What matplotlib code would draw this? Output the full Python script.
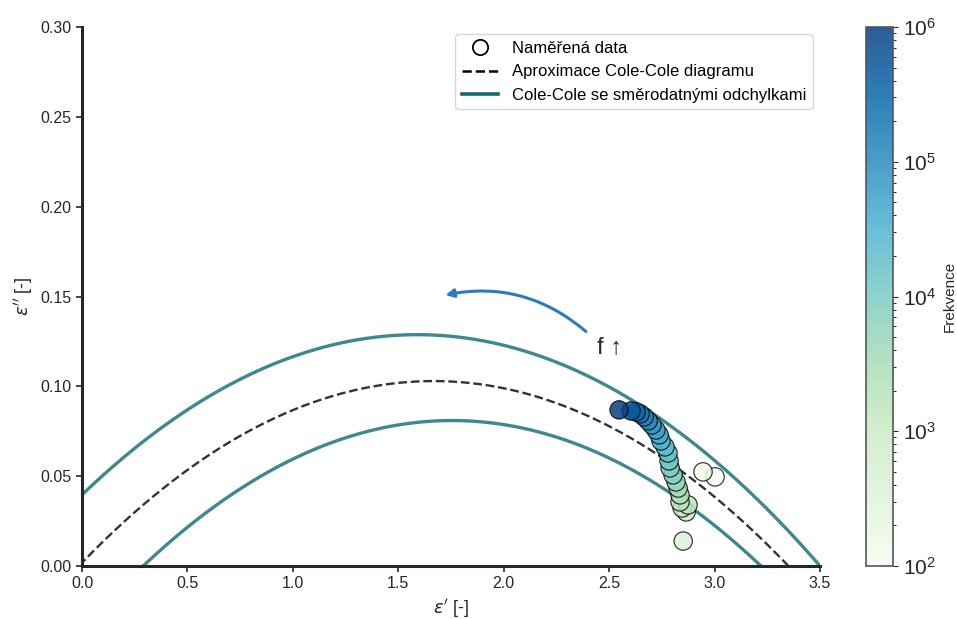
import numpy as np
import matplotlib
matplotlib.use("Agg")
import matplotlib.pyplot as plt
from matplotlib.colors import LogNorm
from matplotlib.lines import Line2D
from matplotlib.patches import FancyArrowPatch

plt.rcParams['font.family'] = ['Liberation Sans', 'DejaVu Sans']
plt.rcParams['mathtext.fontset'] = 'dejavusans'

# measured permittivity (real, imaginary) and frequency [Hz]
freq = [100, 130, 400, 1000, 1200, 1500, 2000, 2500, 3500, 5000,
        7000, 9000, 12000, 16000, 22000, 30000, 40000, 55000, 75000,
        1.0e5, 1.4e5, 2.0e5, 3.0e5, 5.0e5, 1.0e6]
eps_re = [3.002, 2.945, 2.851, 2.865, 2.846, 2.874, 2.836, 2.836, 2.827,
          2.817, 2.803, 2.789, 2.784, 2.779, 2.765, 2.746, 2.737, 2.722,
          2.703, 2.685, 2.666, 2.647, 2.628, 2.604, 2.547]
eps_im = [0.0496, 0.0524, 0.0139, 0.0301, 0.0323, 0.0340, 0.0357, 0.0396,
          0.0434, 0.0468, 0.0507, 0.0546, 0.0585, 0.0629, 0.0663, 0.0696,
          0.0730, 0.0757, 0.0785, 0.0808, 0.0830, 0.0847, 0.0858, 0.0863,
          0.0869]

# Cole-Cole fit (eps_inf, eps_s, alpha) and the +/- std variants
fit_params = (-0.015, 3.35, 0.9222)
upper_params = (-0.32, 3.50, 0.9143)
lower_params = (0.29, 3.22, 0.9297)


def cole_cole(eps_inf, eps_s, alpha):
    w = np.logspace(-140, 140, 4000)
    eps = eps_inf + (eps_s - eps_inf) / (1 + (1j * w) ** (1 - alpha))
    return eps.real, -eps.imag


TEAL = '#0e6a74'
DARK = '#262626'

fig = plt.figure(figsize=(9.57, 6.19), dpi=100)
ax = fig.add_axes([0.0857, 0.0856, 0.7712, 0.8708])

for p in (upper_params, lower_params):
    xr, xi = cole_cole(*p)
    ax.plot(xr, xi, color=TEAL, lw=2.4, alpha=0.8, zorder=2)

xr, xi = cole_cole(*fit_params)
ax.plot(xr, xi, color='#333333', lw=1.7, ls='--', zorder=2)

sc = ax.scatter(eps_re, eps_im, c=freq, cmap='GnBu', norm=LogNorm(1e2, 1e6),
                s=175, edgecolors='black', linewidths=0.8, alpha=0.85, zorder=3)

arrow = FancyArrowPatch((2.40, 0.1295), (1.71, 0.1505),
                        connectionstyle='arc3,rad=0.25', arrowstyle='-|>',
                        mutation_scale=12, color='#2a7bc0', lw=2.2, zorder=4)
ax.add_patch(arrow)
ax.text(2.44, 0.1215, 'f ↑', fontsize=17, va='center', ha='left',
        color=DARK, family=['Liberation Sans', 'DejaVu Sans'])

ax.set_xlim(0, 3.5)
ax.set_ylim(0, 0.30)
ax.set_xticks(np.arange(0, 3.51, 0.5))
ax.set_yticks(np.arange(0, 0.301, 0.05))
ax.set_xlabel(r"$\varepsilon'$ [-]", fontsize=13, color=DARK)
ax.set_ylabel(r"$\varepsilon''$ [-]", fontsize=13, color=DARK)

for side in ('top', 'right'):
    ax.spines[side].set_visible(False)
for side in ('left', 'bottom'):
    ax.spines[side].set_linewidth(2.2)
    ax.spines[side].set_color(DARK)
ax.tick_params(labelsize=11.5, length=4, width=1.2, color=DARK, labelcolor=DARK)

handles = [
    Line2D([], [], ls='none', marker='o', markersize=11, markerfacecolor='white',
           markeredgecolor='black', markeredgewidth=1.3, label='Naměřená data'),
    Line2D([], [], color='black', ls='--', lw=1.8,
           label='Aproximace Cole-Cole diagramu'),
    Line2D([], [], color=TEAL, lw=2.6,
           label='Cole-Cole se směrodatnými odchylkami'),
]
ax.legend(handles=handles, loc='upper right', fontsize=12, frameon=True,
          edgecolor='#cccccc', handlelength=2.2, borderaxespad=0.45)

cax = fig.add_axes([0.905, 0.0856, 0.0282, 0.8708])
cb = fig.colorbar(sc, cax=cax)
cb.set_label('Frekvence', fontsize=11, color=DARK)
cb.ax.yaxis.set_label_coords(2.85, 0.5)
cb.ax.tick_params(labelsize=15, color=DARK, labelcolor=DARK)
cb.outline.set_edgecolor('#555555')
cb.outline.set_linewidth(1.2)

fig.savefig('out.png', dpi=100)
